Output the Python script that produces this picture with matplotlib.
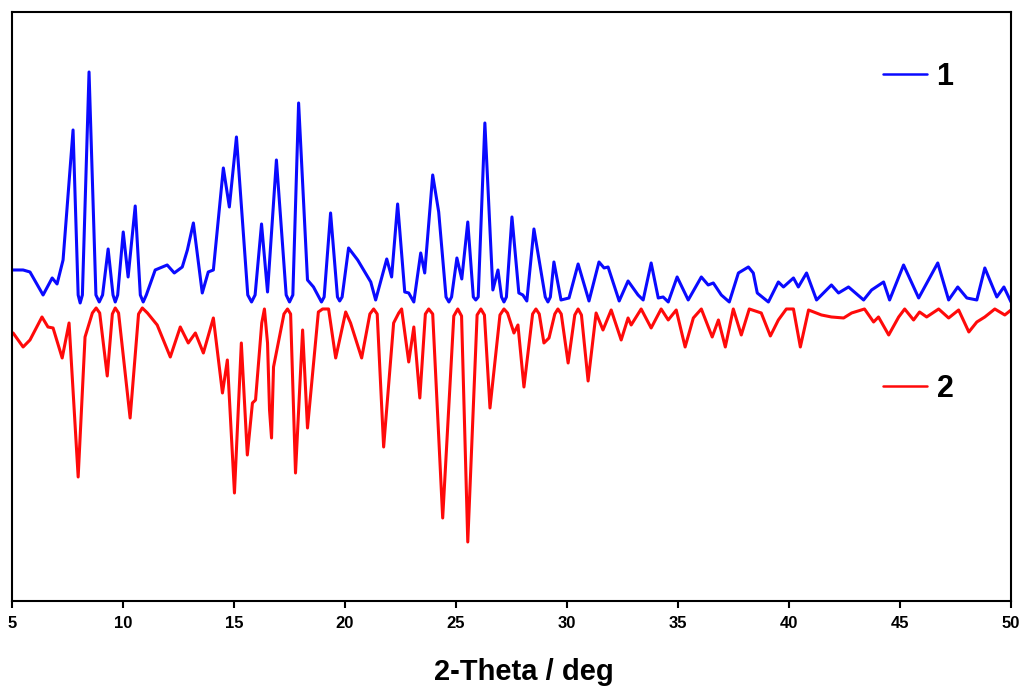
import matplotlib.pyplot as plt

plt.rcParams['font.family'] = ['Liberation Sans', 'DejaVu Sans']
plt.rcParams['font.weight'] = 'bold'

# sample 1 pattern (2-theta in deg, intensity in a.u.)
two_theta_1 = [5.05, 5.50, 5.81, 6.40, 6.81, 7.03, 7.30, 7.75, 7.98, 8.07,
               8.17, 8.47, 8.78, 8.93, 9.08, 9.33, 9.55, 9.65, 9.76, 10.01,
               10.23, 10.55, 10.78, 10.91, 11.05, 11.45, 11.99, 12.31, 12.67, 12.90,
               13.17, 13.57, 13.84, 14.07, 14.52, 14.79, 15.11, 15.62, 15.79, 15.95,
               16.24, 16.51, 16.91, 17.35, 17.50, 17.65, 17.91, 18.31, 18.58, 18.94,
               19.06, 19.35, 19.66, 19.76, 19.87, 20.16, 20.57, 21.16, 21.38, 21.88,
               22.10, 22.37, 22.69, 22.87, 23.10, 23.41, 23.59, 23.95, 24.22, 24.55,
               24.68, 24.80, 25.04, 25.26, 25.53, 25.78, 25.89, 26.00, 26.30, 26.66,
               26.89, 27.05, 27.16, 27.27, 27.52, 27.83, 28.01, 28.19, 28.51, 29.02,
               29.14, 29.25, 29.41, 29.73, 30.09, 30.50, 30.99, 31.44, 31.67, 31.85,
               32.35, 32.75, 33.20, 33.43, 33.79, 34.11, 34.33, 34.56, 34.96, 35.46,
               36.05, 36.36, 36.59, 36.95, 37.31, 37.72, 38.17, 38.39, 38.57, 39.07,
               39.52, 39.75, 40.20, 40.42, 40.79, 41.24, 41.91, 42.23, 42.68, 43.36,
               43.72, 44.26, 44.53, 45.16, 45.84, 46.70, 47.19, 47.60, 48.01, 48.46,
               48.82, 49.36, 49.68, 50.00]
intensity_1 = [33, 33, 31, 8, 25, 19, 43, 173, 8, 0,
               8, 231, 8, 1, 8, 54, 8, 1, 8, 71,
               26, 97, 8, 1, 8, 33, 38, 30, 36, 53,
               80, 10, 31, 33, 135, 96, 166, 8, 1, 8,
               79, 11, 143, 8, 1, 8, 200, 23, 16, 1,
               6, 90, 6, 2, 6, 55, 43, 21, 3, 44,
               26, 99, 11, 10, 1, 50, 30, 128, 91, 6,
               1, 6, 45, 24, 81, 6, 3, 6, 180, 13,
               33, 6, 1, 6, 86, 10, 8, 2, 74, 6,
               1, 6, 41, 3, 5, 39, 2, 41, 35, 36,
               2, 22, 8, 3, 40, 5, 6, 1, 26, 3,
               26, 18, 20, 8, 1, 30, 36, 30, 10, 1,
               21, 16, 25, 16, 30, 3, 18, 10, 16, 3,
               13, 21, 3, 38, 5, 40, 3, 16, 5, 3,
               35, 6, 16, 1]

# sample 2 pattern (drawn inverted below sample 1)
two_theta_2 = [5.05, 5.50, 5.81, 6.35, 6.62, 6.85, 7.26, 7.57, 7.98, 8.29,
               8.62, 8.79, 8.95, 9.29, 9.52, 9.65, 9.80, 10.32, 10.70, 10.87,
               11.10, 11.54, 12.13, 12.58, 12.94, 13.26, 13.62, 14.07, 14.48, 14.70,
               15.02, 15.33, 15.60, 15.83, 15.97, 16.25, 16.37, 16.51, 16.60, 16.69,
               16.78, 17.25, 17.41, 17.55, 17.77, 18.09, 18.31, 18.80, 18.99, 19.26,
               19.58, 20.03, 20.25, 20.75, 21.12, 21.29, 21.45, 21.74, 22.19, 22.42,
               22.55, 22.87, 23.10, 23.37, 23.62, 23.77, 23.95, 24.40, 24.90, 25.08,
               25.25, 25.53, 25.95, 26.12, 26.28, 26.53, 26.98, 27.16, 27.32, 27.61,
               27.79, 28.06, 28.45, 28.60, 28.75, 28.96, 29.19, 29.45, 29.59, 29.74,
               30.05, 30.35, 30.50, 30.65, 30.95, 31.31, 31.62, 31.99, 32.44, 32.75,
               32.89, 33.34, 33.79, 34.24, 34.56, 34.92, 35.32, 35.69, 36.05, 36.54,
               36.82, 37.13, 37.49, 37.85, 38.21, 38.75, 39.16, 39.52, 39.88, 40.20,
               40.51, 40.88, 41.46, 41.91, 42.46, 42.82, 43.40, 43.81, 44.03, 44.49,
               44.94, 45.21, 45.61, 45.88, 46.20, 46.74, 47.19, 47.64, 48.10, 48.46,
               48.82, 49.27, 49.72, 50.00]
intensity_2 = [25, 39, 32, 9, 19, 20, 50, 15, 169, 29,
               5, 0, 5, 68, 6, 0, 5, 110, 6, 0,
               5, 17, 49, 19, 35, 25, 45, 10, 85, 52,
               185, 35, 147, 95, 92, 15, 1, 35, 102, 130,
               59, 6, 1, 6, 165, 22, 120, 4, 1, 1,
               50, 4, 15, 50, 6, 1, 6, 139, 15, 5,
               1, 54, 19, 90, 6, 1, 6, 210, 8, 1,
               8, 234, 7, 1, 7, 100, 7, 1, 5, 25,
               17, 79, 6, 1, 6, 35, 30, 6, 1, 6,
               55, 7, 1, 7, 73, 5, 22, 2, 32, 10,
               17, 1, 20, 1, 12, 2, 39, 10, 1, 29,
               12, 39, 1, 27, 1, 5, 28, 12, 1, 1,
               39, 2, 7, 9, 10, 5, 1, 14, 9, 27,
               9, 1, 12, 4, 9, 1, 10, 2, 24, 14,
               9, 1, 7, 2]

offset_1 = 298
offset_2 = 293

fig = plt.figure(figsize=(10.26, 6.96), dpi=100)
ax = fig.add_axes([0.0117, 0.1365, 0.9737, 0.8463])

y1 = [offset_1 + v for v in intensity_1]
y2 = [offset_2 - v for v in intensity_2]
line1, = ax.plot(two_theta_1, y1, color='#0a0aff', lw=2.2,
                 solid_joinstyle='round', solid_capstyle='round')
line2, = ax.plot(two_theta_2, y2, color='#ff0a0a', lw=2.2,
                 solid_joinstyle='round', solid_capstyle='round')

ax.set_xlim(5, 50)
ax.set_ylim(0, 589)
ax.set_xticks(range(5, 51, 5))
ax.set_yticks([])
ax.tick_params(axis='x', direction='out', length=5, width=1.5, labelsize=12, pad=6)
for lab in ax.get_xticklabels():
    lab.set_fontweight('bold')
for sp in ax.spines.values():
    sp.set_linewidth(1.5)

leg_font = {'weight': 'bold', 'size': 22}
leg1 = ax.legend([line1], ['1'], loc='center left', bbox_to_anchor=(0.872, 0.89),
                 frameon=False, prop=leg_font, handlelength=1.45, handletextpad=0.3,
                 borderpad=0, borderaxespad=0)
for h in leg1.get_lines():
    h.set_linewidth(1.8)
ax.add_artist(leg1)
leg2 = ax.legend([line2], ['2'], loc='center left', bbox_to_anchor=(0.872, 0.36),
                 frameon=False, prop=leg_font, handlelength=1.45, handletextpad=0.3,
                 borderpad=0, borderaxespad=0)
for h in leg2.get_lines():
    h.set_linewidth(1.8)

fig.text(0.511, 0.035, '2-Theta / deg', ha='center', va='center',
         fontsize=21, fontweight='bold')

fig.savefig('out.png', dpi=100, facecolor='white')
